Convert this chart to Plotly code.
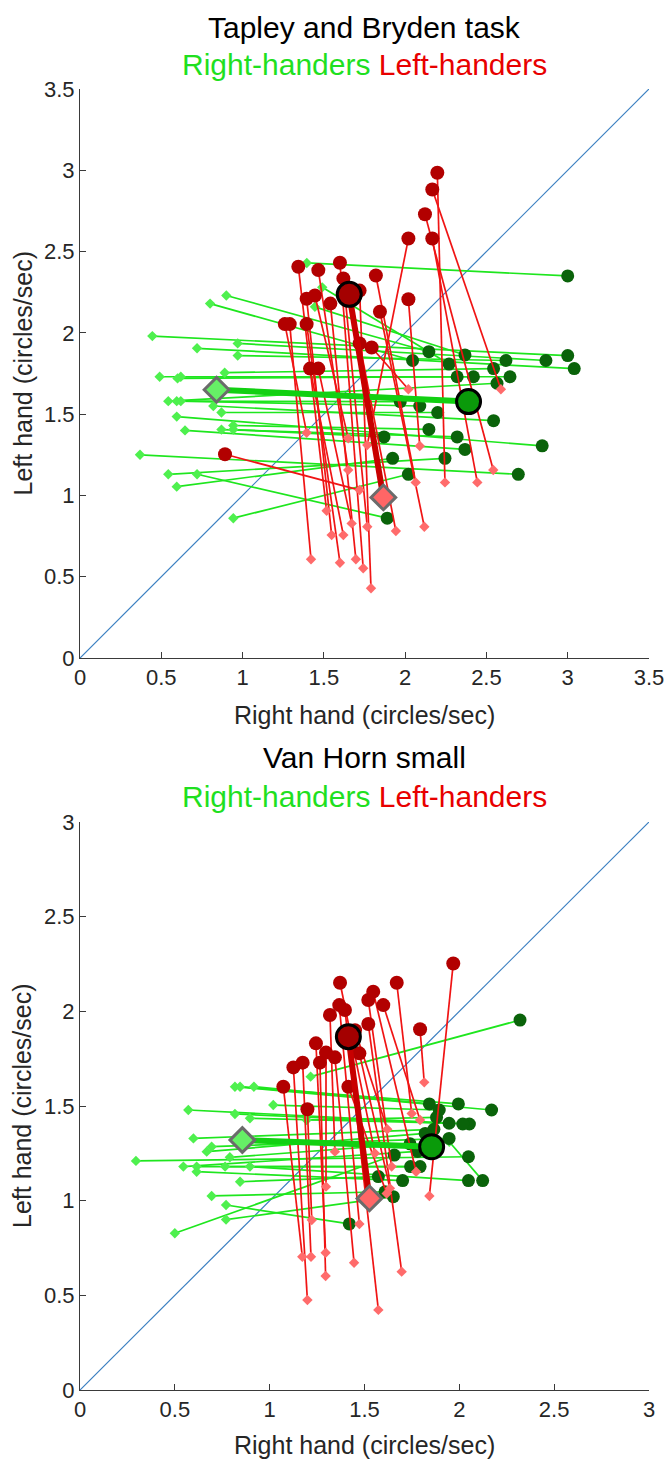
import plotly.graph_objects as go

# ---------------- Tapley and Bryden task ----------------
# Right-handers: diamond point -> circle point (one pair per subject)
tb_rh_dia_x = [1.395, 0.90, 1.49, 0.80, 1.445, 0.445, 0.97, 0.72, 0.97, 0.89, 0.49, 0.62, 0.60, 0.543,
               0.595, 0.62, 0.82, 0.87, 0.595, 0.943, 0.87, 0.943, 0.646, 0.369, 0.543, 0.72, 0.595, 0.943]
tb_rh_dia_y = [2.43, 2.23, 2.28, 2.18, 2.16, 1.98, 1.935, 1.905, 1.86, 1.755, 1.73, 1.73, 1.72, 1.58,
               1.58, 1.58, 1.55, 1.51, 1.485, 1.43, 1.405, 1.405, 1.40, 1.25, 1.13, 1.13, 1.054, 0.86]
tb_rh_cir_x = [3.0, 2.146, 2.27, 2.046, 2.368, 3.0, 2.866, 3.04, 2.62, 2.544, 2.645, 2.42, 2.32, 2.565,
               1.97, 2.09, 2.544, 2.2, 2.843, 2.146, 2.32, 1.87, 2.368, 2.696, 2.245, 1.89, 1.923, 2.02]
tb_rh_cir_y = [2.35, 1.884, 1.808, 1.83, 1.864, 1.86, 1.83, 1.78, 1.83, 1.78, 1.73, 1.73, 1.73, 1.69,
               1.577, 1.55, 1.46, 1.51, 1.305, 1.406, 1.36, 1.36, 1.283, 1.13, 1.228, 0.86, 1.228, 1.13]
# Left-handers: circle point -> diamond point
tb_lh_cir_x = [2.198, 2.167, 2.122, 2.167, 2.02, 2.02, 0.892, 1.26, 1.29, 1.343, 1.394, 1.394,
               1.415, 1.445, 1.466, 1.466, 1.54, 1.599, 1.62, 1.72, 1.72, 1.794, 1.82, 1.845]
tb_lh_cir_y = [2.985, 2.882, 2.73, 2.58, 2.58, 2.207, 1.253, 2.054, 2.054, 2.407, 2.21, 2.054,
               1.78, 2.23, 2.386, 1.78, 2.18, 2.431, 2.335, 2.26, 1.935, 1.91, 2.353, 2.13]
tb_lh_dia_x = [2.245, 2.589, 2.542, 2.444, 1.767, 2.09, 1.72, 1.394, 1.421, 1.517, 1.548, 1.599,
               1.62, 1.65, 1.65, 1.671, 1.697, 1.742, 1.767, 1.79, 1.943, 2.02, 2.065, 2.118]
tb_lh_dia_y = [1.08, 1.653, 1.156, 1.08, 1.31, 1.304, 1.033, 1.386, 0.607, 0.906, 0.756, 0.586,
               0.756, 1.351, 1.156, 0.828, 0.607, 0.552, 0.807, 0.429, 0.781, 1.653, 1.08, 0.807]
# Group means
tb_rh_mean_dia = (0.84, 1.65)
tb_rh_mean_cir = (2.39, 1.577)
tb_lh_mean_cir = (1.656, 2.237)
tb_lh_mean_dia = (1.866, 0.988)

# ---------------- Van Horn small ----------------
vh_rh_dia_x = [1.216, 1.947, 0.817, 0.844, 0.917, 1.019, 0.571, 0.817, 0.896, 1.195, 0.598, 0.694, 0.668,
               0.79, 0.295, 0.545, 0.615, 0.765, 0.896, 0.615, 0.844, 0.694, 0.77, 0.50, 0.77]
vh_rh_dia_y = [1.655, 1.311, 1.602, 1.602, 1.602, 1.505, 1.479, 1.458, 1.435, 1.426, 1.329, 1.285, 1.259,
               1.229, 1.21, 1.18, 1.18, 1.18, 1.18, 1.153, 1.10, 1.025, 0.90, 0.828, 0.977]
vh_rh_cir_x = [2.32, 2.123, 2.17, 1.995, 1.842, 1.894, 2.053, 2.018, 1.946, 1.88, 1.866, 1.946, 1.82,
               1.74, 2.048, 1.78, 1.793, 1.743, 2.048, 1.701, 1.573, 1.608, 1.652, 1.657, 1.42]
vh_rh_cir_y = [1.954, 1.106, 1.479, 1.511, 1.511, 1.479, 1.405, 1.405, 1.409, 1.44, 1.377, 1.329, 1.355,
               1.30, 1.232, 1.26, 1.18, 1.18, 1.106, 1.106, 1.127, 1.047, 1.021, 1.241, 0.877]
vh_lh_cir_x = [1.968, 1.793, 1.67, 1.599, 1.072, 1.125, 1.174, 1.199, 1.244, 1.265, 1.297,
               1.318, 1.344, 1.367, 1.371, 1.397, 1.415, 1.45, 1.473, 1.52, 1.52, 1.546]
vh_lh_cir_y = [2.253, 1.905, 2.151, 2.033, 1.602, 1.704, 1.729, 1.483, 1.831, 1.729, 1.782,
               1.981, 1.757, 2.033, 2.151, 2.007, 1.602, 1.90, 1.778, 2.06, 1.933, 2.104]
vh_lh_dia_x = [1.842, 1.815, 1.749, 1.793, 1.172, 1.199, 1.218, 1.222, 1.295, 1.295, 1.297,
               1.344, 1.445, 1.473, 1.555, 1.573, 1.617, 1.62, 1.634, 1.643, 1.696, 1.772]
vh_lh_dia_y = [1.025, 1.625, 1.46, 1.426, 0.704, 0.475, 0.704, 0.898, 0.725, 0.602, 1.074,
               1.259, 0.672, 0.877, 1.25, 0.423, 1.038, 1.377, 1.065, 1.18, 0.625, 1.153]
vh_rh_mean_dia = (0.856, 1.32)
vh_rh_mean_cir = (1.854, 1.285)
vh_lh_mean_cir = (1.415, 1.866)
vh_lh_mean_dia = (1.526, 1.012)

tb_ticks = [0, 0.5, 1, 1.5, 2, 2.5, 3, 3.5]
tb_ticklabels = ["0", "0.5", "1", "1.5", "2", "2.5", "3", "3.5"]
vh_ticks = [0, 0.5, 1, 1.5, 2, 2.5, 3]
vh_ticklabels = ["0", "0.5", "1", "1.5", "2", "2.5", "3"]

# ---------------- styles ----------------
RH_LINE = "#1ee61e"
RH_DIA = "#4ef04e"
RH_CIR = "#0a630a"
LH_LINE = "#f01414"
LH_DIA = "#ff6b6b"
LH_CIR = "#b20000"
FONT = "Liberation Sans, Arial, sans-serif"

fig = go.Figure()


def seg(x0, y0, x1, y1):
    xs, ys = [], []
    for a, b, c, d in zip(x0, y0, x1, y1):
        xs += [a, c, None]
        ys += [b, d, None]
    return xs, ys


def add_panel(xa, ya, lim, rdx, rdy, rcx, rcy, lcx, lcy, ldx, ldy, rmd, rmc, lmc, lmd):
    kw = dict(xaxis=xa, yaxis=ya, hoverinfo="skip", showlegend=False, cliponaxis=False)
    fig.add_trace(go.Scatter(x=[0, lim], y=[0, lim], mode="lines",
                             line=dict(color="#3b7fc1", width=1.2), **kw))
    xs, ys = seg(rdx, rdy, rcx, rcy)
    fig.add_trace(go.Scatter(x=xs, y=ys, mode="lines", line=dict(color=RH_LINE, width=1.7), **kw))
    fig.add_trace(go.Scatter(x=rdx, y=rdy, mode="markers",
                             marker=dict(symbol="diamond", size=8, color=RH_DIA, line=dict(width=0)), **kw))
    fig.add_trace(go.Scatter(x=rcx, y=rcy, mode="markers",
                             marker=dict(symbol="circle", size=13, color=RH_CIR, line=dict(width=0)), **kw))
    xs, ys = seg(lcx, lcy, ldx, ldy)
    fig.add_trace(go.Scatter(x=xs, y=ys, mode="lines", line=dict(color=LH_LINE, width=1.7), **kw))
    fig.add_trace(go.Scatter(x=ldx, y=ldy, mode="markers",
                             marker=dict(symbol="diamond", size=8, color=LH_DIA, line=dict(width=0)), **kw))
    fig.add_trace(go.Scatter(x=lcx, y=lcy, mode="markers",
                             marker=dict(symbol="circle", size=14, color=LH_CIR, line=dict(width=0)), **kw))
    # mean connections
    fig.add_trace(go.Scatter(x=[rmd[0], rmc[0]], y=[rmd[1], rmc[1]], mode="lines",
                             line=dict(color="#12d012", width=6), **kw))
    fig.add_trace(go.Scatter(x=[lmc[0], lmd[0]], y=[lmc[1], lmd[1]], mode="lines",
                             line=dict(color="#c80000", width=6), **kw))
    fig.add_trace(go.Scatter(x=[rmd[0]], y=[rmd[1]], mode="markers",
                             marker=dict(symbol="diamond", size=19, color="#66f066",
                                         line=dict(color="#6b6b6b", width=3)), **kw))
    fig.add_trace(go.Scatter(x=[rmc[0]], y=[rmc[1]], mode="markers",
                             marker=dict(symbol="circle", size=24, color="#0a9a0a",
                                         line=dict(color="black", width=3)), **kw))
    fig.add_trace(go.Scatter(x=[lmd[0]], y=[lmd[1]], mode="markers",
                             marker=dict(symbol="diamond", size=19, color="#ff6666",
                                         line=dict(color="#6b6b6b", width=3)), **kw))
    fig.add_trace(go.Scatter(x=[lmc[0]], y=[lmc[1]], mode="markers",
                             marker=dict(symbol="circle", size=24, color="#a40000",
                                         line=dict(color="black", width=3)), **kw))


add_panel("x", "y", 3.5, tb_rh_dia_x, tb_rh_dia_y, tb_rh_cir_x, tb_rh_cir_y,
          tb_lh_cir_x, tb_lh_cir_y, tb_lh_dia_x, tb_lh_dia_y,
          tb_rh_mean_dia, tb_rh_mean_cir, tb_lh_mean_cir, tb_lh_mean_dia)
add_panel("x2", "y2", 3.0, vh_rh_dia_x, vh_rh_dia_y, vh_rh_cir_x, vh_rh_cir_y,
          vh_lh_cir_x, vh_lh_cir_y, vh_lh_dia_x, vh_lh_dia_y,
          vh_rh_mean_dia, vh_rh_mean_cir, vh_lh_mean_cir, vh_lh_mean_dia)

W, H = 666, 1460
xd = [80 / W, 649 / W]
y1d = [1 - 658 / H, 1 - 89 / H]
y2d = [1 - 1390 / H, 1 - 822 / H]

axis_common = dict(showgrid=False, zeroline=False, showline=True, linecolor="#3a3a3a", linewidth=1,
                   ticks="inside", ticklen=6, tickcolor="#3a3a3a", tickwidth=1, automargin=False,
                   tickfont=dict(family=FONT, size=22, color="#262626"))

fig.update_layout(
    width=W, height=H, margin=dict(l=0, r=0, t=0, b=0, pad=0, autoexpand=False),
    paper_bgcolor="white", plot_bgcolor="white", showlegend=False,
    font=dict(family=FONT),
    xaxis=dict(domain=xd, range=[0, 3.5], tickvals=tb_ticks, ticktext=tb_ticklabels, anchor="y",
               **axis_common),
    yaxis=dict(domain=y1d, range=[0, 3.5], tickvals=tb_ticks, ticktext=tb_ticklabels, anchor="x",
               **axis_common),
    xaxis2=dict(domain=xd, range=[0, 3.0], tickvals=vh_ticks, ticktext=vh_ticklabels, anchor="y2",
                **axis_common),
    yaxis2=dict(domain=y2d, range=[0, 3.0], tickvals=vh_ticks, ticktext=vh_ticklabels, anchor="x2",
                **axis_common),
)

cx = (xd[0] + xd[1]) / 2
sub = ("<span style='color:#1fe01f'>Right-handers</span> "
       "<span style='color:#e80000'>Left-handers</span>")
ann = [
    dict(text="Tapley and Bryden task", x=cx, y=1 - 27 / H, size=30, color="black"),
    dict(text=sub, x=cx, y=1 - 64 / H, size=30, color="black"),
    dict(text="Right hand (circles/sec)", x=cx, y=1 - 715 / H, size=25, color="#262626"),
    dict(text="Van Horn small", x=cx, y=1 - 757 / H, size=30, color="black"),
    dict(text=sub, x=cx, y=1 - 796 / H, size=30, color="black"),
    dict(text="Right hand (circles/sec)", x=cx, y=1 - 1445 / H, size=25, color="#262626"),
]
for a in ann:
    fig.add_annotation(text=a["text"], x=a["x"], y=a["y"], xref="paper", yref="paper",
                       showarrow=False, xanchor="center", yanchor="middle",
                       font=dict(family=FONT, size=a["size"], color=a["color"]))
for yc in [(y1d[0] + y1d[1]) / 2, (y2d[0] + y2d[1]) / 2]:
    fig.add_annotation(text="Left hand (circles/sec)", x=22 / W, y=yc, xref="paper", yref="paper",
                       showarrow=False, textangle=-90, xanchor="center", yanchor="middle",
                       font=dict(family=FONT, size=25, color="#262626"))

fig.write_html("out.html")
